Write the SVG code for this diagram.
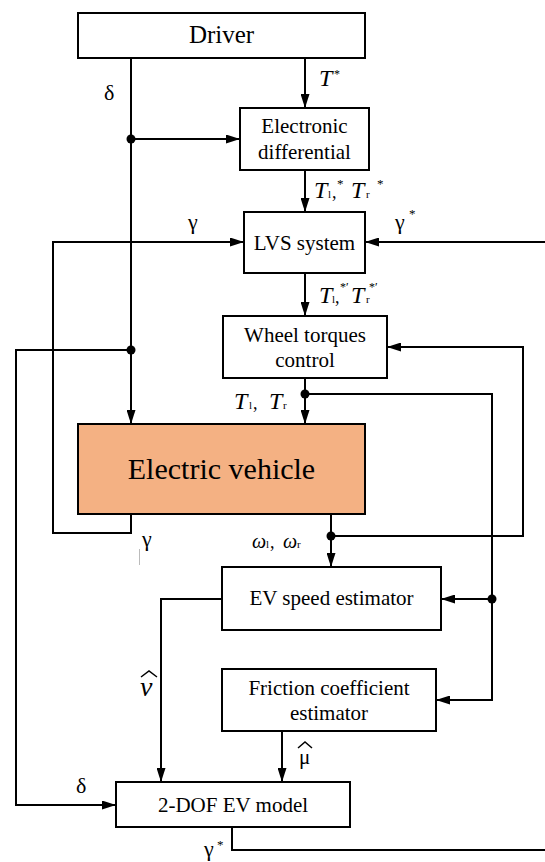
<svg xmlns="http://www.w3.org/2000/svg" width="545" height="862" viewBox="0 0 545 862" font-family="Liberation Serif, serif">
<style>
text{font-family:'Liberation Serif',serif}
.box{fill:#fff;stroke:#000;stroke-width:2}
.ev{fill:#F4B183;stroke:#000;stroke-width:2}
.t{font-size:21px;fill:#000;text-anchor:middle}
.big{font-size:30px}
.it{font-style:italic;font-size:24px;fill:#000}
.g{font-size:22px;fill:#000}
.s{font-size:12px;fill:#000}
.c{fill:none;stroke:#000;stroke-width:2}
.a{marker-end:url(#ah)}
.dot{fill:#000}
</style>
<defs>
<marker id="ah" viewBox="0 0 14 9" refX="14" refY="4.5" markerWidth="14" markerHeight="9" markerUnits="userSpaceOnUse" orient="auto">
<path d="M0,0 L14,4.5 L0,9 z" fill="#000"/>
</marker>
</defs>

<g id="connectors">
<path class="c a" d="M131,58 V424"/>
<path class="c a" d="M131,139 H240"/>
<path class="c a" d="M305,58 V108"/>
<path class="c a" d="M305,170 V212"/>
<path class="c a" d="M131,514 V533 H53 V242 H244"/>
<path class="c a" d="M545,242 H365"/>
<path class="c a" d="M305,273 V316"/>
<path class="c a" d="M131,350 H16 V805 H116"/>
<path class="c a" d="M305,378 V424"/>
<path class="c a" d="M305,394 H492 V700 H436"/>
<path class="c a" d="M492,599 H441"/>
<path class="c a" d="M331,514 V567"/>
<path class="c a" d="M331,536 H523 V347 H387"/>
<path class="c a" d="M222,599 H161 V782"/>
<path class="c a" d="M282,731 V782"/>
<path class="c" d="M232,827 V850 H545"/>
<circle class="dot" cx="131" cy="139" r="4.5"/>
<circle class="dot" cx="131" cy="350" r="4.5"/>
<circle class="dot" cx="305" cy="394" r="4.5"/>
<circle class="dot" cx="331" cy="536" r="4.5"/>
<circle class="dot" cx="492" cy="599" r="4.5"/>
</g>

<g id="driver">
<rect class="box" x="78" y="13" width="287" height="45"/>
<text class="t" x="221.5" y="43" style="font-size:25px">Driver</text>
</g>
<g id="electronic-differential">
<rect class="box" x="240" y="108" width="129" height="62"/>
<text class="t" x="304.5" y="133">Electronic</text>
<text class="t" x="304.5" y="159">differential</text>
</g>
<g id="lvs-system">
<rect class="box" x="244" y="212" width="121" height="61"/>
<text class="t" x="304.5" y="250">LVS system</text>
</g>
<g id="wheel-torques-control">
<rect class="box" x="223" y="316" width="164" height="62"/>
<text class="t" x="305" y="342">Wheel torques</text>
<text class="t" x="305" y="367">control</text>
</g>
<g id="electric-vehicle">
<rect class="ev" x="78" y="424" width="287" height="90"/>
<text class="t big" x="221.5" y="479">Electric vehicle</text>
</g>
<g id="ev-speed-estimator">
<rect class="box" x="222" y="567" width="219" height="63"/>
<text class="t" x="331.5" y="605">EV speed estimator</text>
</g>
<g id="friction-coefficient-estimator">
<rect class="box" x="222" y="669" width="214" height="62"/>
<text class="t" x="329" y="695">Friction coefficient</text>
<text class="t" x="329" y="720">estimator</text>
</g>
<g id="two-dof-model">
<rect class="box" x="116" y="782" width="234" height="45"/>
<text class="t" x="233" y="812">2-DOF EV model</text>
</g>

<g id="labels">
<text class="g" x="104" y="100">δ</text>
<text class="it" x="319" y="86">T</text>
<text class="s" x="334" y="78">*</text>

<text class="it" x="314" y="198">T</text>
<text class="s" x="328" y="198" style="font-size:11px">l</text>
<text class="g" x="332" y="198" style="font-size:18px">,</text>
<text class="s" x="337" y="188" style="font-size:13px">*</text>
<text class="it" x="351" y="198">T</text>
<text class="s" x="366" y="198" style="font-size:11px">r</text>
<text class="s" x="377" y="188" style="font-size:13px">*</text>

<text class="g" x="188" y="229">γ</text>
<text class="g" x="395" y="229">γ</text>
<text class="s" x="409" y="218" style="font-size:13px">*</text>

<text class="it" x="319" y="303">T</text>
<text class="s" x="332" y="303" style="font-size:11px">l</text>
<text class="g" x="335" y="303" style="font-size:18px">,</text>
<text class="s" x="340" y="291" style="font-size:12px">*′</text>
<text class="it" x="351" y="303">T</text>
<text class="s" x="366" y="303" style="font-size:11px">r</text>
<text class="s" x="369" y="291" style="font-size:12px">*′</text>

<text class="it" x="234" y="409">T</text>
<text class="s" x="249" y="409" style="font-size:11px">l</text>
<text class="g" x="253" y="409" style="font-size:18px">,</text>
<text class="it" x="269" y="409">T</text>
<text class="s" x="283" y="409" style="font-size:11px">r</text>

<text class="g" x="142" y="546">γ</text>
<line x1="139.5" y1="549" x2="139.5" y2="565" stroke="#bbb" stroke-width="1"/>

<text class="it" x="252" y="548" style="font-size:20px">ω</text>
<text class="s" x="266" y="548" style="font-size:11px">l</text>
<text class="g" x="270" y="548" style="font-size:18px">,</text>
<text class="it" x="283" y="548" style="font-size:20px">ω</text>
<text class="s" x="297" y="548" style="font-size:11px">r</text>

<text class="it" x="140" y="696" style="font-size:28px">v</text>
<polyline points="141,677 149,671 157,677" fill="none" stroke="#000" stroke-width="1.5"/>

<text class="g" x="299" y="764" style="font-size:21px">μ</text>
<polyline points="298,748 305,742 312,748" fill="none" stroke="#000" stroke-width="1.5"/>

<text class="g" x="76" y="793">δ</text>
<text class="g" x="204" y="856">γ</text>
<text class="s" x="217" y="849" style="font-size:13px">*</text>
</g>
</svg>
